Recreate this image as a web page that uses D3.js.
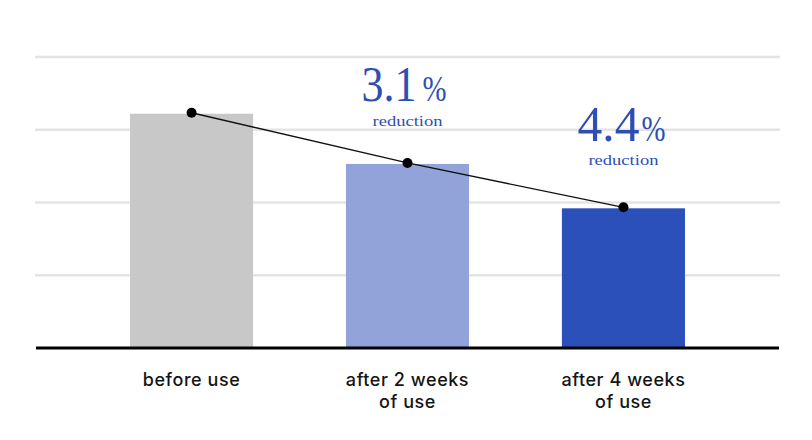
<!DOCTYPE html>
<html>
<head>
<meta charset="utf-8">
<script src="https://cdn.jsdelivr.net/npm/d3@7"></script>
<style>
  html, body { margin: 0; padding: 0; background: #ffffff; }
  svg { display: block; }
</style>
</head>
<body>
<svg id="chart" width="812" height="440"></svg>
<script>
// ---- data ----
const categories = ["before use", "after 2 weeks of use", "after 4 weeks of use"];
const labelLines = [["before use"], ["after 2 weeks", "of use"], ["after 4 weeks", "of use"]];
const values = [3.22, 2.53, 1.92];
const barColors = ["#c8c8c8", "#91a3d8", "#2b50b9"];
const reductionPct = [null, "3.1", "4.4"];
const gridTicks = [1, 2, 3, 4];

// ---- layout ----
const svg = d3.select("#chart");
const left = 35, right = 780, baseY = 348, topY = 57;

const x = d3.scaleBand()
  .domain(categories)
  .range([left, right])
  .paddingInner(0.43)
  .paddingOuter(0.44);

const y = d3.scaleLinear()
  .domain([0, 4])
  .range([baseY, topY]);

// gridlines
svg.append("g")
  .selectAll("line")
  .data(gridTicks)
  .join("line")
  .attr("x1", left).attr("x2", right)
  .attr("y1", d => y(d)).attr("y2", d => y(d))
  .attr("stroke", "#e4e4e4")
  .attr("stroke-width", 2.5);

// bars
svg.append("g")
  .selectAll("rect")
  .data(categories)
  .join("rect")
  .attr("x", d => x(d))
  .attr("width", x.bandwidth())
  .attr("y", (d, i) => y(values[i]))
  .attr("height", (d, i) => y(0) - y(values[i]))
  .attr("fill", (d, i) => barColors[i]);

// baseline axis
const xAxis = d3.axisBottom(x).tickSize(0).tickFormat("");
const axisG = svg.append("g")
  .attr("transform", `translate(0,${baseY})`)
  .call(xAxis);
axisG.select(".domain")
  .attr("stroke", "#000")
  .attr("stroke-width", 3)
  .attr("d", `M${left + 1},0H${right - 1}`);

// category labels (one text per line)
const labelG = svg.append("g");
categories.forEach((c, i) => {
  labelLines[i].forEach((ln, j) => {
    labelG.append("text")
      .attr("x", x(c) + x.bandwidth() / 2)
      .attr("y", 386 + j * 22)
      .attr("text-anchor", "middle")
      .attr("font-family", "Inter, 'Open Sans', sans-serif")
      .attr("font-size", 18)
      .attr("font-weight", 500)
      .attr("letter-spacing", 0.55)
      .attr("fill", "#151515")
      .text(ln);
  });
});

// connecting line and dots
const pts = categories.map((c, i) => [x(c) + x.bandwidth() / 2, y(values[i]) - 1]);
svg.append("path")
  .attr("d", d3.line()(pts))
  .attr("fill", "none")
  .attr("stroke", "#111")
  .attr("stroke-width", 1.3);
svg.append("g")
  .selectAll("circle")
  .data(pts)
  .join("circle")
  .attr("cx", d => d[0]).attr("cy", d => d[1])
  .attr("r", 5)
  .attr("fill", "#000");

// reduction annotations
const annColor = "#2d4fb4";
const annOffset = [0, 61, 66];
categories.forEach((c, i) => {
  if (!reductionPct[i]) return;
  const cx = x(c) + x.bandwidth() / 2 - 2;
  const by = y(values[i]) - annOffset[i];
  const numW = i === 1 ? 55 : 62;
  const gap = i === 1 ? 6 : 2;
  const g = svg.append("g")
    .attr("font-family", "'Liberation Serif', 'Times New Roman', serif")
    .attr("fill", annColor);
  g.append("text")
    .attr("x", cx - 44)
    .attr("y", by - 1.5)
    .attr("font-size", 50)
    .attr("textLength", numW)
    .attr("lengthAdjust", "spacingAndGlyphs")
    .text(reductionPct[i]);
  g.append("text")
    .attr("x", cx - 44 + numW + gap)
    .attr("y", by - 1.5)
    .attr("font-size", 36)
    .attr("textLength", 24)
    .attr("lengthAdjust", "spacingAndGlyphs")
    .text("%");
  g.append("text")
    .attr("x", cx + 2)
    .attr("y", by + 23)
    .attr("text-anchor", "middle")
    .attr("font-size", 15.5)
    .attr("textLength", 70)
    .attr("lengthAdjust", "spacingAndGlyphs")
    .text("reduction");
});
</script>
</body>
</html>
